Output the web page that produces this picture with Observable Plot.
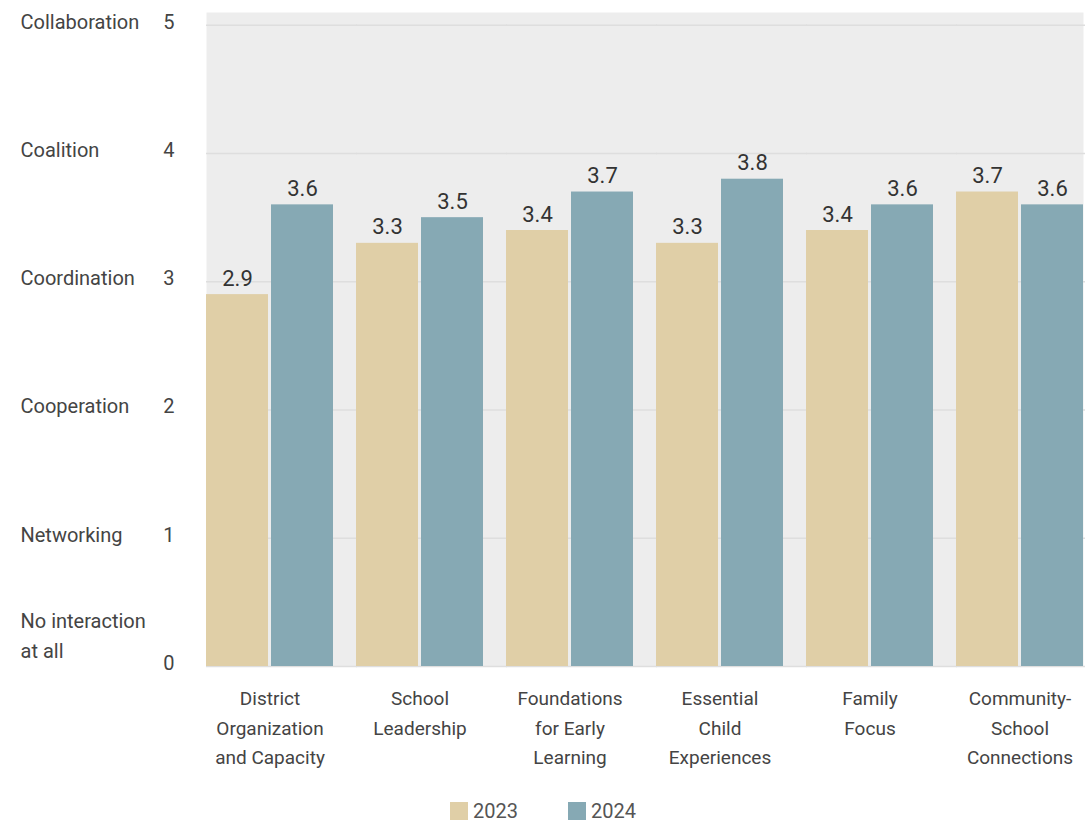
<!DOCTYPE html>
<html><head><meta charset="utf-8">
<script src="https://cdn.jsdelivr.net/npm/d3@7"></script>
<script src="https://cdn.jsdelivr.net/npm/@observablehq/plot@0.6"></script>
<style>
body{margin:0;background:#fff;font-family:Roboto,"Liberation Sans",sans-serif;}
#legend{display:flex;align-items:center;padding-left:450px;margin-top:10px;height:22px;line-height:22px;font-size:20px;color:#555;}
.item{display:flex;align-items:center;margin-right:50px}
.sw{width:18px;height:18px;margin-right:5px}
</style></head><body><div id="chart"></div><div id="legend"></div>
<script>
const categories = ["District Organization and Capacity","School Leadership","Foundations for Early Learning","Essential Child Experiences","Family Focus","Community-School Connections"];
const categoryLabels = ["District\nOrganization\nand Capacity","School\nLeadership","Foundations\nfor Early\nLearning","Essential\nChild\nExperiences","Family\nFocus","Community-\nSchool\nConnections"];
const years = ["2023","2024"];
const values2023 = [2.9,3.3,3.4,3.3,3.4,3.7];
const values2024 = [3.6,3.5,3.7,3.8,3.6,3.6];
const levelTicks = [0,1,2,3,4,5];
const levelNames = ["No interaction\nat all","Networking","Cooperation","Coordination","Coalition","Collaboration"];
const colors = ["#e0cfa7","#86a9b4"];

const data = categories.flatMap((c,i)=>[
  {category:c, year:years[0], value:values2023[i]},
  {category:c, year:years[1], value:values2024[i]}
]);
const labelOf = new Map(categories.map((c,i)=>[c, categoryLabels[i]]));
const nameOf = new Map(levelTicks.map((t,i)=>[t, levelNames[i]]));

const plot = Plot.plot({
  width:1085, height:790, marginLeft:203, marginRight:0, marginTop:12, marginBottom:124,
  style:{fontFamily:"Roboto, 'Liberation Sans', sans-serif", background:"#fff"},
  fx:{domain:categories, paddingInner:0.155, paddingOuter:0, label:null},
  x:{domain:years, paddingInner:0.05, paddingOuter:0, axis:null},
  y:{domain:[0,5.1], label:null},
  color:{domain:years, range:colors},
  marks:[
    Plot.frame({fill:"#ededed", facet:"super"}),
    Plot.gridY(levelTicks, {stroke:"#dedede", strokeOpacity:1, strokeWidth:1.5, insetRight:-24}),
    Plot.barY(data, {fx:"category", x:"year", y:"value", fill:"year"}),
    Plot.text(data, {fx:"category", x:"year", y:"value", text:d=>d.value.toFixed(1), lineAnchor:"bottom", dy:-9, fontSize:22, fill:"#333"}),
    Plot.axisY(levelTicks, {anchor:"left", tickSize:0, tickPadding:32, tickFormat:"d", fontSize:20, color:"#444", dy:-3, label:null}),
    Plot.axisY([1,2,3,4,5], {anchor:"left", tickSize:0, tickPadding:186, textAnchor:"start", tickFormat:t=>nameOf.get(t), fontSize:20, color:"#444", dy:-3, label:null}),
    Plot.axisY([0], {anchor:"left", tickSize:0, tickPadding:186, textAnchor:"start", tickFormat:t=>nameOf.get(t), fontSize:20, color:"#444", lineAnchor:"bottom", lineHeight:1.5, dy:-9, label:null}),
    Plot.axisFx({anchor:"bottom", tickSize:0, tickPadding:18, tickFormat:c=>labelOf.get(c), fontSize:19, lineHeight:1.55, lineAnchor:"top", color:"#444", label:null})
  ]
});
document.getElementById("chart").append(plot);

const legend = d3.select("#legend");
years.forEach((y,i)=>{
  const item = legend.append("div").attr("class","item");
  item.append("div").attr("class","sw").style("background", colors[i]);
  item.append("span").text(y);
});
</script></body></html>
